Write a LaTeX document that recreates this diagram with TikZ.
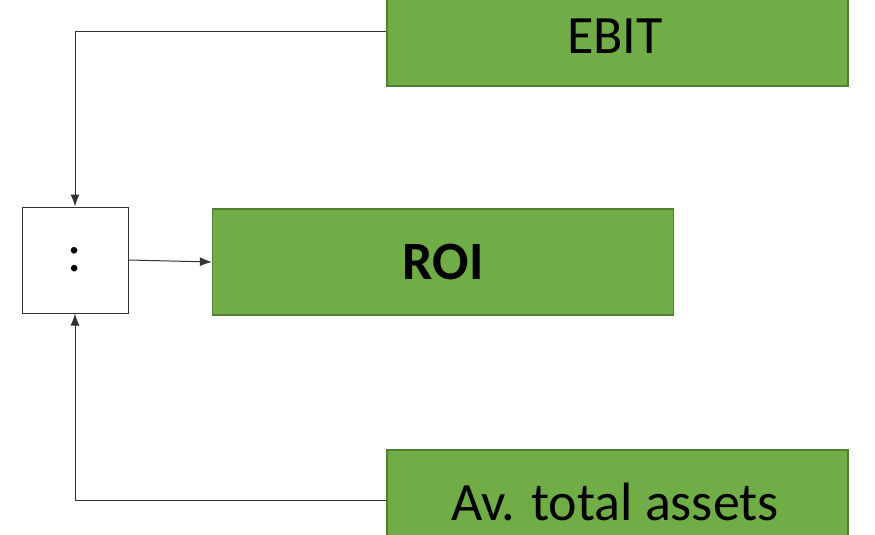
\documentclass[tikz,border=0pt]{standalone}
\usepackage{fontspec}
\setmainfont{Carlito}
\usetikzlibrary{arrows.meta}
\definecolor{gfill}{HTML}{70AD47}
\definecolor{gdraw}{HTML}{507E32}
\begin{document}
\begin{tikzpicture}[x=1pt,y=-1pt,
  gbox/.style={draw=gdraw,fill=gfill,line width=1.2pt,minimum width=461pt,minimum height=106pt,inner sep=0pt,font=\fontsize{54}{60}\selectfont},
  conn/.style={draw=black!80,line width=1pt,-{Latex[length=12pt,width=9pt]}}]
\useasboundingbox (0,0) rectangle (875,535);
\clip (0,0) rectangle (875,535);
\node[gbox,minimum height=120pt] (ebit) at (617.5,26) {};
\node at (615,36) {\fontsize{54}{60}\selectfont EBIT};
\node[gbox] (roi) at (443,262) {\textbf{ROI}};
\node[draw=black!80,line width=1pt,minimum width=106pt,minimum height=106pt,font=\fontsize{54}{60}\selectfont] (div) at (75,260) {:};
\node[gbox,minimum height=120pt] (ava) at (617.5,510) {};
\node at (615,502) {\fontsize{54}{60}\selectfont Av. total assets};
\coordinate (e1) at (ebit.west |- 0,32);
\coordinate (a1) at (ava.west |- 0,500);
\draw[conn] (e1) -| (div.north);
\draw[conn] (a1) -| (div.south);
\draw[conn] (div.east) -- (roi.west);
\end{tikzpicture}
\end{document}
